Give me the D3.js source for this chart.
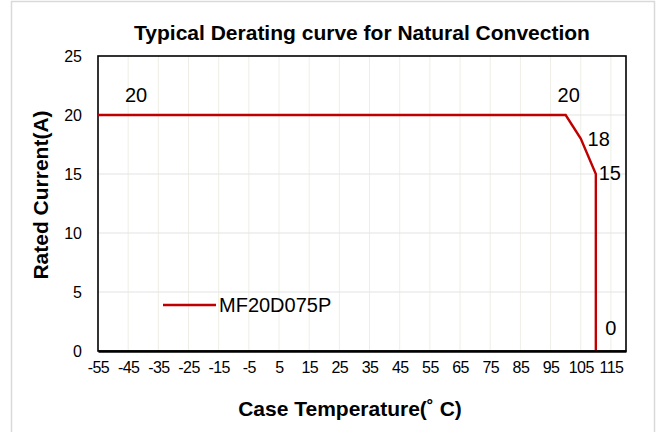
<!DOCTYPE html>
<html>
<head>
<meta charset="utf-8">
<script src="https://cdn.jsdelivr.net/npm/d3@7"></script>
<style>
  body { margin: 0; background: #fff; }
  text { font-family: "Liberation Sans", Arial, sans-serif; fill: #000; }
</style>
</head>
<body>
<div id="chartDiv"></div>
<script>
// data
var temps = [-55, 100, 105, 110, 110];
var currents = [20, 20, 18, 15, 0];
var pointLabels = ["20", "20", "18", "15", "0"];
var xTicks = [-55, -45, -35, -25, -15, -5, 5, 15, 25, 35, 45, 55, 65, 75, 85, 95, 105, 115];
var yTicks = [0, 5, 10, 15, 20, 25];
var seriesName = "MF20D075P";

var width = 657, height = 432;
var margin = { top: 56, right: 31, bottom: 81, left: 98 };
var chartWidth = width - margin.left - margin.right;
var chartHeight = height - margin.top - margin.bottom;

var svg = d3.select("#chartDiv").append("svg")
  .attr("width", width)
  .attr("height", height);

// outer frame
svg.append("rect")
  .attr("x", 11.5).attr("y", 1.5)
  .attr("width", 643).attr("height", 440)
  .attr("fill", "none")
  .attr("stroke", "#d9d9d9")
  .attr("stroke-width", 1.5);

var xScale = d3.scaleLinear().domain([-55, 120]).range([0, chartWidth]);
var yScale = d3.scaleLinear().domain([0, 25]).range([chartHeight, 0]);

var plot = svg.append("g")
  .attr("transform", "translate(" + margin.left + "," + margin.top + ")");

// vertical grid
plot.selectAll(".vgrid")
  .data(xTicks.slice(1))
  .enter().append("line")
    .attr("class", "vgrid")
    .attr("x1", function(d) { return xScale(d); })
    .attr("x2", function(d) { return xScale(d); })
    .attr("y1", 0).attr("y2", chartHeight)
    .attr("stroke", "#efeee6").attr("stroke-width", 1);

// horizontal grid
plot.selectAll(".hgrid")
  .data(yTicks.slice(1, -1))
  .enter().append("line")
    .attr("class", "hgrid")
    .attr("x1", 0).attr("x2", chartWidth)
    .attr("y1", function(d) { return yScale(d); })
    .attr("y2", function(d) { return yScale(d); })
    .attr("stroke", "#e3e3e3").attr("stroke-width", 1.2);

// plot border
plot.append("rect")
  .attr("width", chartWidth).attr("height", chartHeight)
  .attr("fill", "none").attr("stroke", "#000").attr("stroke-width", 1.6);

// x axis
var xAxis = d3.axisBottom(xScale).tickValues(xTicks).tickSize(0).tickPadding(11)
  .tickFormat(function(d) { return String(d); });
var gx = svg.append("g")
  .attr("transform", "translate(" + margin.left + "," + (margin.top + chartHeight) + ")")
  .call(xAxis);
gx.select(".domain").attr("stroke", "#000").attr("stroke-width", 2.5);
gx.selectAll("text").style("font-size", "16px").attr("letter-spacing", "-0.6px");

// y axis
var yAxis = d3.axisLeft(yScale).tickValues(yTicks).tickSize(0).tickPadding(16);
var gy = svg.append("g")
  .attr("transform", "translate(" + margin.left + "," + margin.top + ")")
  .call(yAxis);
gy.select(".domain").remove();
gy.selectAll("text").style("font-size", "16px");

// series line
var pts = temps.map(function(t, i) { return [t, currents[i]]; });
var line = d3.line()
  .x(function(d) { return xScale(d[0]); })
  .y(function(d) { return yScale(d[1]); });

plot.append("path")
  .datum(pts)
  .attr("d", line)
  .attr("fill", "none")
  .attr("stroke", "#c00000")
  .attr("stroke-width", 2.4);

// point labels
var labelOffsets = [[38, -20], [3, -20], [18, 0], [14, -1], [15, -23]];
plot.selectAll(".plabel")
  .data(pts)
  .enter().append("text")
    .attr("class", "plabel")
    .attr("x", function(d, i) { return xScale(d[0]) + labelOffsets[i][0]; })
    .attr("y", function(d, i) { return yScale(d[1]) + labelOffsets[i][1]; })
    .attr("text-anchor", "middle")
    .attr("dominant-baseline", "central")
    .style("font-size", "20px")
    .text(function(d, i) { return pointLabels[i]; });

// legend
var legend = svg.append("g").attr("transform", "translate(163,305)");
legend.append("line")
  .attr("x1", 0).attr("x2", 53).attr("y1", 0).attr("y2", 0)
  .attr("stroke", "#c00000").attr("stroke-width", 2.4);
legend.append("text")
  .attr("x", 56).attr("y", 0)
  .attr("dominant-baseline", "central")
  .style("font-size", "20px")
  .text(seriesName);

// title
svg.append("text")
  .attr("x", 362).attr("y", 40)
  .attr("text-anchor", "middle")
  .style("font-size", "21px").style("font-weight", "bold")
  .text("Typical Derating curve for Natural Convection");

// axis titles
svg.append("text")
  .attr("x", 350).attr("y", 416)
  .attr("text-anchor", "middle")
  .style("font-size", "21px").style("font-weight", "bold")
  .text("Case Temperature(˚ C)");

svg.append("text")
  .attr("transform", "translate(48,195) rotate(-90)")
  .attr("text-anchor", "middle")
  .style("font-size", "21px").style("font-weight", "bold")
  .text("Rated Current(A)");
</script>
</body>
</html>
